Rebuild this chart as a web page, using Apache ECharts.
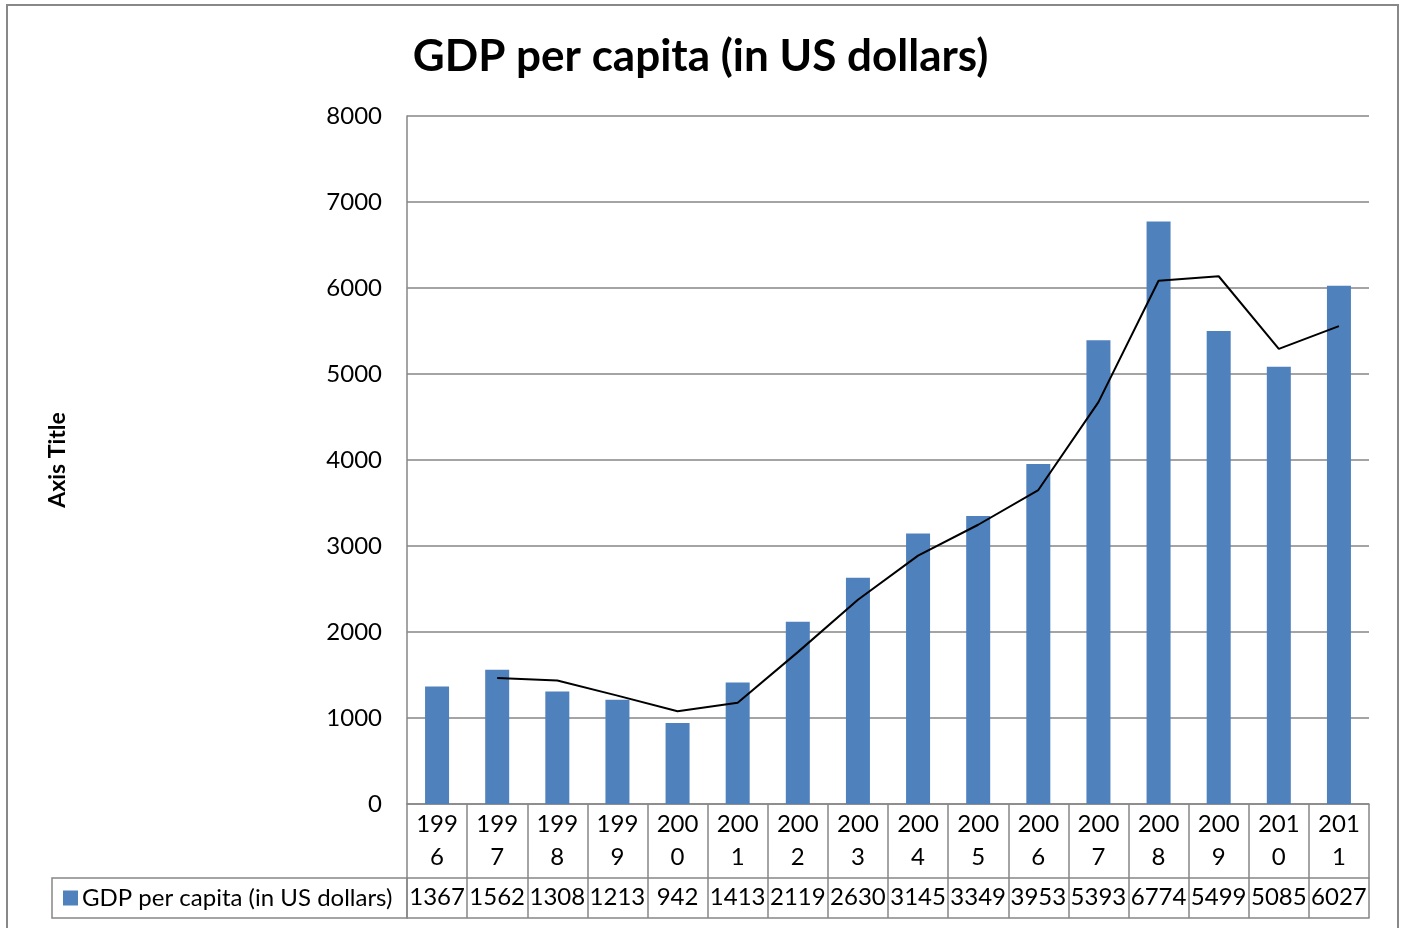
<!DOCTYPE html>
<html>
<head>
<meta charset="utf-8">
<script src="https://cdn.jsdelivr.net/npm/echarts@6/dist/echarts.min.js"></script>
<style>
  html, body { margin: 0; padding: 0; background: #fff; }
  #chart { width: 1401px; height: 928px; }
</style>
</head>
<body>
<div id="chart"></div>
<script>
// Years shown on the category axis
const years = ['1996', '1997', '1998', '1999', '2000', '2001', '2002', '2003',
               '2004', '2005', '2006', '2007', '2008', '2009', '2010', '2011'];
// GDP per capita, US dollars
const gdp = [1367, 1562, 1308, 1213, 942, 1413, 2119, 2630,
             3145, 3349, 3953, 5393, 6774, 5499, 5085, 6027];
// Two-period moving average trendline
const trend = [null, 1464.5, 1435, 1260.5, 1077.5, 1177.5, 1766, 2374.5,
               2887.5, 3247, 3651, 4673, 6083.5, 6136.5, 5292, 5556];
// Value axis ticks
const yTicks = [0, 1000, 2000, 3000, 4000, 5000, 6000, 7000, 8000];

const seriesName = 'GDP per capita (in US dollars)';
const FONT = 'Lato, "Open Sans", sans-serif';
const GRID = '#868686';

const W = 1401, H = 928;
const gridLeft = 407, gridRight = 32, gridTop = 116, gridBottom = 124;
const headerRow = 74, valueRow = 40;
const axisBottomY = H - gridBottom;

const chart = echarts.init(document.getElementById('chart'));
chart.setOption({
  backgroundColor: '#fff',
  animation: false,
  title: {
    text: 'GDP per capita (in US dollars)',
    left: 'center',
    top: 30,
    textStyle: { fontFamily: FONT, fontWeight: 'bold', fontSize: 44, color: '#000' }
  },
  legend: {
    data: [seriesName],
    left: 58,
    top: axisBottomY + headerRow + 3,
    icon: 'rect',
    itemWidth: 15,
    itemHeight: 15,
    itemGap: 4,
    textStyle: { fontFamily: FONT, fontSize: 24, color: '#000', padding: [0, 0, 0, -1] }
  },
  grid: { left: gridLeft, right: gridRight, top: gridTop, bottom: gridBottom, containLabel: false },
  graphic: [
    {
      type: 'rect',
      shape: { x: 7, y: 5, width: 1391, height: 940 },
      style: { fill: null, stroke: '#888', lineWidth: 2 },
      silent: true
    },
    {
      type: 'rect',
      shape: { x: 52, y: axisBottomY + headerRow, width: gridLeft - 52, height: valueRow },
      style: { fill: null, stroke: GRID, lineWidth: 1.5 },
      silent: true
    },
    {
      type: 'text',
      x: 58,
      y: 460,
      rotation: Math.PI / 2,
      style: {
        text: 'Axis Title',
        fontFamily: FONT, fontWeight: 'bold', fontSize: 23, fill: '#000',
        align: 'center', verticalAlign: 'middle'
      }
    }
  ],
  xAxis: [
    {
      type: 'category',
      data: years,
      boundaryGap: true,
      axisLine: { show: true, lineStyle: { color: GRID, width: 1.5 } },
      axisTick: { show: true, interval: 0, length: headerRow, lineStyle: { color: GRID, width: 1.5 } },
      axisLabel: {
        interval: 0,
        margin: 4,
        fontFamily: FONT,
        fontSize: 24,
        lineHeight: 33,
        color: '#000',
        formatter: v => v.slice(0, 3) + '\n' + v.slice(3)
      }
    },
    {
      type: 'category',
      data: gdp.map(String),
      position: 'bottom',
      offset: headerRow,
      boundaryGap: true,
      axisLine: { show: true, lineStyle: { color: GRID, width: 1.5 } },
      axisTick: { show: true, interval: 0, length: valueRow, lineStyle: { color: GRID, width: 1.5 } },
      axisLabel: { interval: 0, margin: 7, fontFamily: FONT, fontSize: 24, color: '#000' }
    },
    {
      type: 'category',
      data: years,
      position: 'bottom',
      offset: headerRow + valueRow,
      axisLine: { show: true, lineStyle: { color: GRID, width: 1.5 } },
      axisTick: { show: false },
      axisLabel: { show: false }
    }
  ],
  yAxis: {
    type: 'value',
    min: yTicks[0],
    max: yTicks[yTicks.length - 1],
    interval: yTicks[1] - yTicks[0],
    axisLine: { show: true, lineStyle: { color: GRID, width: 1.5 } },
    axisTick: { show: false },
    axisLabel: { margin: 25, fontFamily: FONT, fontSize: 24, color: '#000', formatter: v => String(v) },
    splitLine: { show: true, lineStyle: { color: GRID, width: 1.5 } }
  },
  series: [
    {
      name: seriesName,
      type: 'bar',
      data: gdp,
      barWidth: 24,
      itemStyle: { color: '#4F81BD' },
      z: 2
    },
    {
      name: 'Trend',
      type: 'line',
      data: trend,
      symbol: 'none',
      connectNulls: false,
      lineStyle: { color: '#000', width: 2 },
      z: 3
    }
  ]
});
</script>
</body>
</html>
